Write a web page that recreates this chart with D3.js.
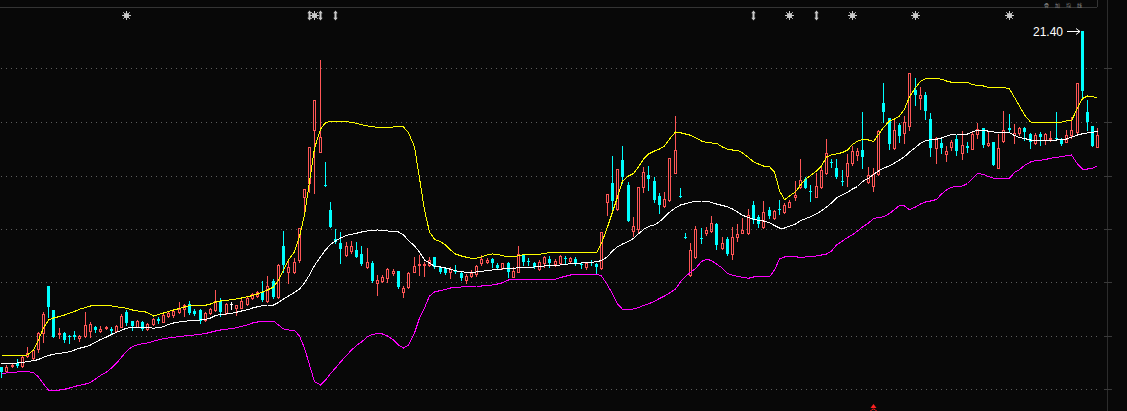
<!DOCTYPE html>
<html><head><meta charset="utf-8">
<script src="https://cdn.jsdelivr.net/npm/d3@7"></script>
<style>html,body{margin:0;padding:0;background:#080808;overflow:hidden}svg{display:block}</style>
</head><body><svg id="c" width="1127" height="411"></svg>
<script>
// ---- data (prices) ----
const openP=[
7.95,7.80,8.00,8.11,8.01,8.41,8.31,8.67,9.33,11.20,
10.24,9.28,9.33,9.21,9.24,9.13,9.21,9.40,9.55,9.40,
9.51,9.48,9.41,9.57,10.17,9.80,9.57,9.77,9.47,9.68,
9.88,9.77,10.01,10.04,10.15,10.27,10.47,10.20,10.24,9.84,
10.11,10.24,10.60,10.11,10.47,10.33,10.33,10.48,10.71,10.81,
10.97,10.61,11.40,10.75,12.80,11.75,11.77,12.24,14.75,15.33,
17.44,16.57,15.24,14.24,13.08,12.93,12.44,12.61,12.64,12.48,
11.95,12.13,11.33,11.41,11.51,11.71,11.80,10.97,11.15,11.77,
12.03,12.06,12.04,12.35,11.95,11.91,11.77,11.84,11.73,11.44,
11.61,11.67,12.11,12.17,12.27,12.04,11.91,12.13,11.57,11.77,
12.44,12.20,12.11,11.87,12.13,12.28,12.07,12.13,12.31,12.21,
12.28,12.07,11.95,12.17,12.08,11.91,14.57,15.33,14.27,16.24,
15.24,13.41,13.47,15.15,15.64,15.40,14.80,14.40,14.64,15.73,
14.82,13.15,11.64,12.35,13.13,13.33,13.40,13.67,12.71,13.08,
12.47,13.17,13.33,13.31,14.44,13.97,13.55,14.24,13.91,14.27,
14.17,14.37,14.77,15.17,15.47,15.01,14.77,15.17,15.73,16.15,
15.91,15.40,15.59,16.10,16.44,16.64,15.37,15.20,15.68,18.53,
17.91,16.71,17.65,17.31,17.59,19.04,18.71,18.84,17.87,16.71,
16.93,16.47,16.77,17.08,16.53,16.80,16.69,17.26,17.51,16.83,
16.94,15.94,17.00,17.51,17.24,17.32,17.51,17.27,16.91,17.27,
17.04,17.08,17.13,17.04,16.97,17.24,17.35,21.40,18.15,17.60,
16.77];
const closeP=[
7.77,7.97,8.04,8.01,8.35,8.51,8.64,9.33,10.07,10.37,
9.17,9.33,9.04,9.17,9.17,9.21,9.64,9.67,9.44,9.49,
9.56,9.41,9.60,10.00,9.71,9.61,9.81,9.47,9.68,9.87,
9.81,10.04,10.13,10.21,10.27,10.44,10.11,10.08,9.80,10.11,
10.28,10.60,10.17,10.47,10.47,10.44,10.60,10.73,10.87,10.95,
10.64,11.20,10.75,12.04,12.04,11.97,12.17,13.51,15.07,16.75,
18.64,17.17,15.21,13.57,12.97,12.67,12.81,12.81,12.37,12.07,
12.17,11.41,11.44,11.57,11.87,11.81,11.17,11.11,11.73,12.00,
12.08,12.08,12.24,11.97,11.77,11.71,11.88,11.75,11.51,11.61,
11.71,12.01,12.28,12.24,12.11,11.91,12.11,11.77,11.80,12.48,
12.17,12.15,11.97,12.17,12.35,12.11,12.21,12.40,12.27,12.31,
12.11,12.04,12.13,12.13,11.95,13.35,14.87,14.60,15.87,15.55,
13.81,13.60,15.15,15.75,15.48,14.64,14.44,14.67,16.31,16.64,
14.77,13.11,12.64,13.47,13.11,13.44,13.71,12.84,12.93,12.48,
13.17,13.28,13.44,14.04,13.84,13.68,14.15,14.00,14.21,14.24,
14.44,14.57,14.84,15.44,15.13,14.97,15.20,15.84,16.53,16.11,
15.56,15.34,16.11,16.60,16.60,16.37,15.64,15.67,17.40,18.16,
16.89,17.44,17.20,17.77,19.71,18.85,18.84,18.21,16.71,17.12,
16.74,16.60,16.96,16.60,16.84,16.74,17.29,17.48,16.84,16.91,
16.04,16.73,17.42,17.44,17.31,17.51,17.37,16.95,17.24,17.17,
17.27,17.13,17.11,16.87,17.24,17.44,19.31,19.01,17.77,16.80,
17.24];
const highP=[
7.97,8.04,8.08,8.27,8.40,8.75,8.69,9.37,10.15,11.20,
10.24,9.51,9.37,9.23,9.40,9.24,10.16,9.75,9.60,9.60,
9.59,9.55,9.63,10.07,10.24,9.80,9.84,9.81,9.73,9.91,
9.97,10.11,10.17,10.27,10.55,10.48,10.60,10.28,10.28,10.15,
10.33,11.04,10.71,10.51,10.55,10.44,10.67,10.80,10.93,11.00,
11.40,11.60,11.48,12.08,13.40,12.28,12.31,13.53,15.07,16.75,
18.64,20.24,16.15,14.55,13.48,13.35,12.97,13.00,12.97,12.80,
12.71,12.20,11.64,11.64,11.91,11.87,11.81,11.21,11.77,12.35,
12.44,12.15,12.37,12.37,12.00,11.97,11.97,12.04,11.77,11.68,
11.84,12.04,12.44,12.31,12.31,12.11,12.13,12.17,11.97,12.80,
12.48,12.31,12.17,12.24,12.40,12.40,12.27,12.44,12.40,12.35,
12.37,12.17,12.17,12.24,12.11,13.35,14.87,16.40,15.87,16.80,
15.37,13.97,15.15,15.97,16.00,15.57,14.91,14.97,16.31,18.00,
15.11,13.33,12.93,13.60,13.51,13.57,14.00,13.73,13.17,13.17,
13.55,13.67,13.91,14.27,14.61,14.04,14.61,14.35,14.24,14.64,
14.51,14.64,15.40,16.28,15.55,15.24,15.73,15.97,17.07,16.27,
16.28,15.84,16.50,16.80,16.72,18.15,15.95,15.91,17.44,19.31,
17.91,17.84,17.73,18.00,19.71,19.51,19.16,18.97,18.11,17.16,
17.08,16.80,17.04,17.24,17.40,16.97,17.35,17.72,17.53,17.36,
16.94,17.28,18.19,18.07,17.68,17.56,17.55,17.31,17.31,17.35,
17.31,17.40,18.15,17.11,17.44,17.97,19.31,21.40,18.64,17.60,
17.51];
const lowP=[
7.57,7.77,7.96,7.97,7.97,8.35,8.27,8.57,8.97,9.97,
9.17,9.11,8.97,8.93,9.07,9.01,9.17,9.17,9.35,9.35,
9.48,9.31,9.39,9.55,9.64,9.44,9.55,9.44,9.44,9.64,
9.73,9.75,9.95,9.97,10.11,10.01,10.08,10.04,9.73,9.81,
10.07,10.21,10.01,10.08,10.28,10.04,10.31,10.44,10.67,10.77,
10.61,10.57,10.71,10.71,11.77,11.31,11.71,12.17,14.01,14.97,
14.93,16.57,15.21,13.57,12.91,12.11,12.41,12.51,12.37,12.04,
11.91,11.37,10.84,11.35,11.37,11.64,11.11,10.75,11.11,11.75,
11.64,11.60,12.00,11.91,11.71,11.68,11.51,11.71,11.44,11.33,
11.57,11.61,12.04,12.11,11.95,11.87,11.88,11.57,11.55,11.75,
12.04,12.04,11.91,11.84,11.97,11.97,12.01,12.11,12.11,12.17,
12.04,11.91,11.88,12.04,11.73,11.88,14.04,14.24,14.24,15.31,
13.81,13.20,13.33,14.97,15.04,14.57,14.13,14.35,14.61,15.71,
14.77,13.11,11.60,12.33,12.93,13.24,13.37,12.68,12.67,12.44,
12.28,13.01,13.31,13.28,13.73,13.57,13.51,13.91,13.88,14.07,
14.13,14.35,14.64,15.11,15.11,14.61,14.75,15.11,15.68,15.97,
15.52,15.24,15.20,16.04,16.24,15.91,15.33,15.01,15.64,17.77,
16.67,16.68,16.97,16.93,17.44,18.44,18.28,17.89,16.41,16.13,
16.51,16.20,16.64,16.44,16.28,16.57,16.67,17.14,16.77,16.80,
16.04,15.91,16.96,17.37,16.91,17.24,17.04,16.73,16.87,16.84,
16.87,17.00,17.04,16.84,16.95,17.11,17.31,18.67,17.44,16.80,
16.75];
const upperBand=[
8.43,8.43,8.43,8.43,8.43,8.44,8.64,9.04,9.52,9.84,
9.92,9.98,10.04,10.11,10.18,10.27,10.34,10.40,10.43,10.43,
10.43,10.40,10.37,10.34,10.31,10.24,10.20,10.19,10.14,10.00,
10.06,10.12,10.18,10.24,10.30,10.36,10.42,10.43,10.43,10.43,
10.48,10.56,10.60,10.63,10.65,10.68,10.72,10.77,10.82,10.88,
10.96,11.04,11.16,11.44,11.84,12.24,12.57,13.17,14.04,15.37,
16.71,17.47,17.73,17.80,17.80,17.79,17.77,17.75,17.71,17.65,
17.60,17.57,17.55,17.55,17.55,17.56,17.57,17.56,17.33,16.77,
15.51,14.24,13.36,13.07,12.97,12.84,12.64,12.48,12.40,12.35,
12.31,12.31,12.37,12.45,12.48,12.47,12.41,12.37,12.37,12.41,
12.45,12.45,12.45,12.47,12.51,12.53,12.55,12.55,12.55,12.55,
12.55,12.54,12.54,12.53,12.53,12.91,13.56,14.16,14.76,15.40,
15.60,15.70,15.96,16.27,16.48,16.60,16.68,16.80,17.08,17.36,
17.33,17.28,17.23,17.13,17.00,16.94,16.92,16.91,16.76,16.67,
16.64,16.64,16.52,16.34,16.17,16.08,16.00,15.97,15.76,15.01,
14.65,14.80,14.97,15.24,15.47,15.62,15.80,16.00,16.36,16.45,
16.48,16.54,16.64,16.86,16.99,17.06,17.04,16.98,17.26,17.54,
17.80,17.88,18.00,18.28,18.76,19.14,19.38,19.50,19.51,19.51,
19.47,19.40,19.35,19.35,19.35,19.34,19.26,19.22,19.20,19.14,
19.15,19.15,19.15,19.08,18.74,18.40,18.04,17.76,17.75,17.75,
17.75,17.75,17.75,17.75,17.81,17.81,18.32,18.70,18.80,18.78,
18.71];
const midBand=[
8.08,8.09,8.10,8.12,8.14,8.18,8.21,8.26,8.35,8.42,
8.47,8.50,8.54,8.57,8.64,8.71,8.77,8.84,8.95,9.06,
9.16,9.26,9.35,9.43,9.51,9.54,9.55,9.55,9.55,9.51,
9.54,9.57,9.66,9.72,9.76,9.79,9.81,9.83,9.84,9.86,
9.92,10.02,10.06,10.08,10.11,10.15,10.20,10.25,10.32,10.37,
10.41,10.44,10.44,10.54,10.68,10.80,10.94,11.08,11.32,11.64,
12.02,12.37,12.64,12.86,13.00,13.12,13.23,13.27,13.31,13.36,
13.40,13.42,13.44,13.42,13.40,13.38,13.36,13.24,13.02,12.80,
12.56,12.24,12.12,11.99,11.96,11.92,11.87,11.81,11.77,11.75,
11.73,11.76,11.79,11.81,11.84,11.87,11.88,11.89,11.91,11.93,
11.95,11.95,11.96,11.97,12.00,12.01,12.03,12.04,12.07,12.09,
12.11,12.12,12.13,12.15,12.17,12.22,12.37,12.61,12.77,12.88,
12.99,13.10,13.29,13.46,13.58,13.65,13.77,13.96,14.15,14.33,
14.44,14.49,14.55,14.58,14.60,14.60,14.54,14.48,14.42,14.37,
14.28,14.16,14.03,13.94,13.87,13.83,13.80,13.73,13.62,13.52,
13.52,13.59,13.68,13.81,13.89,13.97,14.09,14.21,14.36,14.52,
14.72,14.85,14.94,15.08,15.18,15.38,15.51,15.66,15.80,15.91,
16.01,16.12,16.24,16.37,16.56,16.74,16.91,17.01,17.05,17.07,
17.12,17.19,17.26,17.28,17.28,17.28,17.37,17.44,17.44,17.39,
17.36,17.33,17.33,17.33,17.22,17.14,17.10,17.04,17.04,17.04,
17.04,17.04,17.04,17.05,17.08,17.15,17.24,17.29,17.32,17.35,
17.39];
const lowerBand=[
7.71,7.72,7.73,7.76,7.77,7.77,7.74,7.56,7.28,7.04,
7.04,7.04,7.07,7.12,7.18,7.23,7.28,7.34,7.48,7.62,
7.76,7.92,8.11,8.35,8.59,8.78,8.85,8.89,8.92,8.99,
9.05,9.09,9.12,9.15,9.17,9.20,9.22,9.24,9.27,9.30,
9.35,9.40,9.44,9.47,9.50,9.53,9.59,9.64,9.72,9.76,
9.80,9.80,9.80,9.64,9.48,9.44,9.42,9.20,8.72,8.04,
7.37,7.24,7.44,7.70,7.92,8.16,8.42,8.64,8.82,8.96,
9.17,9.26,9.30,9.28,9.20,9.04,8.84,8.72,8.84,9.32,
9.92,10.32,10.80,10.96,11.02,11.06,11.12,11.15,11.16,11.17,
11.19,11.20,11.20,11.21,11.24,11.28,11.33,11.44,11.47,11.47,
11.47,11.47,11.47,11.47,11.47,11.47,11.47,11.54,11.59,11.64,
11.68,11.68,11.68,11.68,11.68,11.60,11.24,10.88,10.48,10.27,
10.27,10.28,10.34,10.42,10.49,10.58,10.70,10.80,10.92,11.08,
11.37,11.58,11.75,11.90,12.18,12.27,12.22,12.08,11.91,11.71,
11.63,11.59,11.55,11.51,11.56,11.57,11.57,11.57,11.84,12.28,
12.36,12.38,12.38,12.33,12.36,12.38,12.40,12.44,12.48,12.60,
12.84,13.00,13.14,13.25,13.40,13.56,13.72,13.90,13.94,13.97,
14.10,14.26,14.42,14.40,14.25,14.36,14.48,14.56,14.60,14.66,
14.88,15.04,15.15,15.18,15.20,15.30,15.50,15.71,15.66,15.58,
15.51,15.51,15.51,15.51,15.74,15.86,16.02,16.16,16.22,16.23,
16.26,16.31,16.34,16.38,16.41,16.44,16.08,15.88,15.88,15.90,
16.02];
// horizontal grid levels (evenly spaced, as drawn by the software)
const gridLevels=[19.91,17.75,15.62,13.48,11.35,9.19,7.07];
// signal markers along the top (candle index, glyph type)
const markerIdx=[24,59,60,61,64,144,151,156,163,175,193];
const markerType=['star','arrow','star','arrow','arrow','arrow','star','arrow','star','star','star'];
// small red marker at the bottom (candle index)
const bottomMarkIdx=[167];
const cornerText='叠加均线';

// ---- drawing ----
const W=1127,H=411,n=openP.length;
const svg=d3.select('#c');
svg.append('rect').attr('width',W).attr('height',H).attr('fill','#080808');
const x=d3.scaleBand().domain(d3.range(n)).range([-0.91,1100.5]).paddingInner(0);
const bw=x.bandwidth();
const col=i=>Math.floor(x(i)+bw/2);
const y=d3.scaleLinear().domain([6.20,22.64]).range([411,0]);
const py=v=>Math.round(y(v));

const frame=svg.append('g').attr('shape-rendering','crispEdges');
frame.append('line').attr('x1',0).attr('x2',1097).attr('y1',7.5).attr('y2',7.5).attr('stroke','#343434');
frame.append('line').attr('x1',1097.5).attr('x2',1097.5).attr('y1',0).attr('y2',7).attr('stroke','#343434');
frame.append('line').attr('x1',1107.5).attr('x2',1107.5).attr('y1',0).attr('y2',H).attr('stroke','#2c2c2c');
const grid=svg.append('g').attr('shape-rendering','crispEdges');
grid.selectAll('line.g').data(gridLevels).join('line').attr('class','g')
  .attr('x1',1).attr('x2',1097).attr('y1',d=>py(d)+0.5).attr('y2',d=>py(d)+0.5)
  .attr('stroke','#5e5e5e').attr('stroke-dasharray','1 4');
grid.selectAll('line.t').data(gridLevels).join('line').attr('class','t')
  .attr('x1',1104).attr('x2',1112).attr('y1',d=>py(d)+0.5).attr('y2',d=>py(d)+0.5)
  .attr('stroke','#3a3a3a');

svg.append('text').attr('x',1044).attr('y',6.5).attr('fill','#8a8a8a')
  .attr('font-family','"Noto Sans CJK SC"').attr('font-size',5).attr('letter-spacing',6).text(cornerText);

// candles
const RED='#ff5656',CYAN='#00ffff',WHITE='#ffffff';
const cg=svg.append('g').attr('shape-rendering','crispEdges');
d3.range(n).forEach(i=>{
  const o=openP[i],c=closeP[i],h=highP[i],l=lowP[i];
  const cx=col(i);
  const yh=py(h),yl=py(l);
  const yt=py(Math.max(o,c)),yb=py(Math.min(o,c));
  if(c>o){
    if(yt>yh) cg.append('rect').attr('x',cx).attr('y',yh).attr('width',1).attr('height',yt-yh).attr('fill',RED);
    if(yl>yb) cg.append('rect').attr('x',cx).attr('y',yb).attr('width',1).attr('height',yl-yb+1).attr('fill',RED);
    if(yb-yt>=2){
      cg.append('rect').attr('x',cx-0.5).attr('y',yt+0.5).attr('width',2).attr('height',yb-yt)
        .attr('fill','none').attr('stroke',RED);
    } else {
      cg.append('rect').attr('x',cx-1).attr('y',yt).attr('width',3).attr('height',Math.max(1,yb-yt+1)).attr('fill',RED);
    }
  } else {
    const colr=c<o?CYAN:WHITE;
    cg.append('rect').attr('x',cx).attr('y',yh).attr('width',1).attr('height',Math.max(1,yl-yh+1)).attr('fill',colr);
    cg.append('rect').attr('x',cx-1).attr('y',yt).attr('width',3).attr('height',Math.max(1,yb-yt)).attr('fill',colr);
  }
});

// bollinger lines
const line=arr=>d3.line().x((d,i)=>col(i)+0.5).y(d=>y(d))(arr);
const lg=svg.append('g').attr('fill','none').attr('stroke-width',1).attr('shape-rendering','crispEdges');
lg.append('path').attr('d',line(upperBand)).attr('stroke','#ffff00');
lg.append('path').attr('d',line(midBand)).attr('stroke','#ffffff');
lg.append('path').attr('d',line(lowerBand)).attr('stroke','#ff00ff');

// max label
const im=d3.maxIndex(highP);
const mx=col(im),my=py(highP[im])+0.5;
svg.append('text').attr('x',mx-19).attr('y',my+4).attr('text-anchor','end')
  .attr('fill','#ffffff').attr('font-family','"Liberation Sans",Arial').attr('font-size',12)
  .text(highP[im].toFixed(2));
const ag=svg.append('g').attr('stroke','#ffffff').attr('stroke-width',1).attr('fill','none');
ag.append('line').attr('x1',mx-15).attr('x2',mx-2).attr('y1',my).attr('y2',my);
ag.append('path').attr('d',`M${mx-6},${my-3}L${mx-2},${my}L${mx-6},${my+3}`);

// top markers
const mg=svg.append('g').attr('fill','#c8c8c8').attr('stroke','#c8c8c8');
markerIdx.forEach((k,j)=>{
  const cx=col(k)+0.5,cy=15.5;
  const g=mg.append('g').attr('transform',`translate(${cx},${cy})`);
  if(markerType[j]==='star'){
    g.append('circle').attr('r',2.6).attr('stroke','none');
    [[-4.5,0,4.5,0],[0,-4.5,0,4.5],[-3.3,-3.3,3.3,3.3],[-3.3,3.3,3.3,-3.3]].forEach(s=>
      g.append('line').attr('x1',s[0]).attr('y1',s[1]).attr('x2',s[2]).attr('y2',s[3]).attr('stroke-width',1));
  } else {
    g.append('path').attr('stroke','none').attr('d','M0,-5L2.2,-2.2L1,-2.2L1,2.2L2.2,2.2L0,5L-2.2,2.2L-1,2.2L-1,-2.2L-2.2,-2.2Z');
  }
});
// bottom marker
const bg=svg.append('g').attr('fill','#ff2020').attr('stroke','#ff2020');
bottomMarkIdx.forEach(k=>{
  const cx=col(k)+0.5;
  bg.append('path').attr('stroke','none').attr('d',`M${cx-3},${408}L${cx},${404}L${cx+3},${408}Z`);
  bg.append('path').attr('fill','none').attr('d',`M${cx-3},${411}Q${cx},${407} ${cx+3},${411}`);
});
</script></body></html>
